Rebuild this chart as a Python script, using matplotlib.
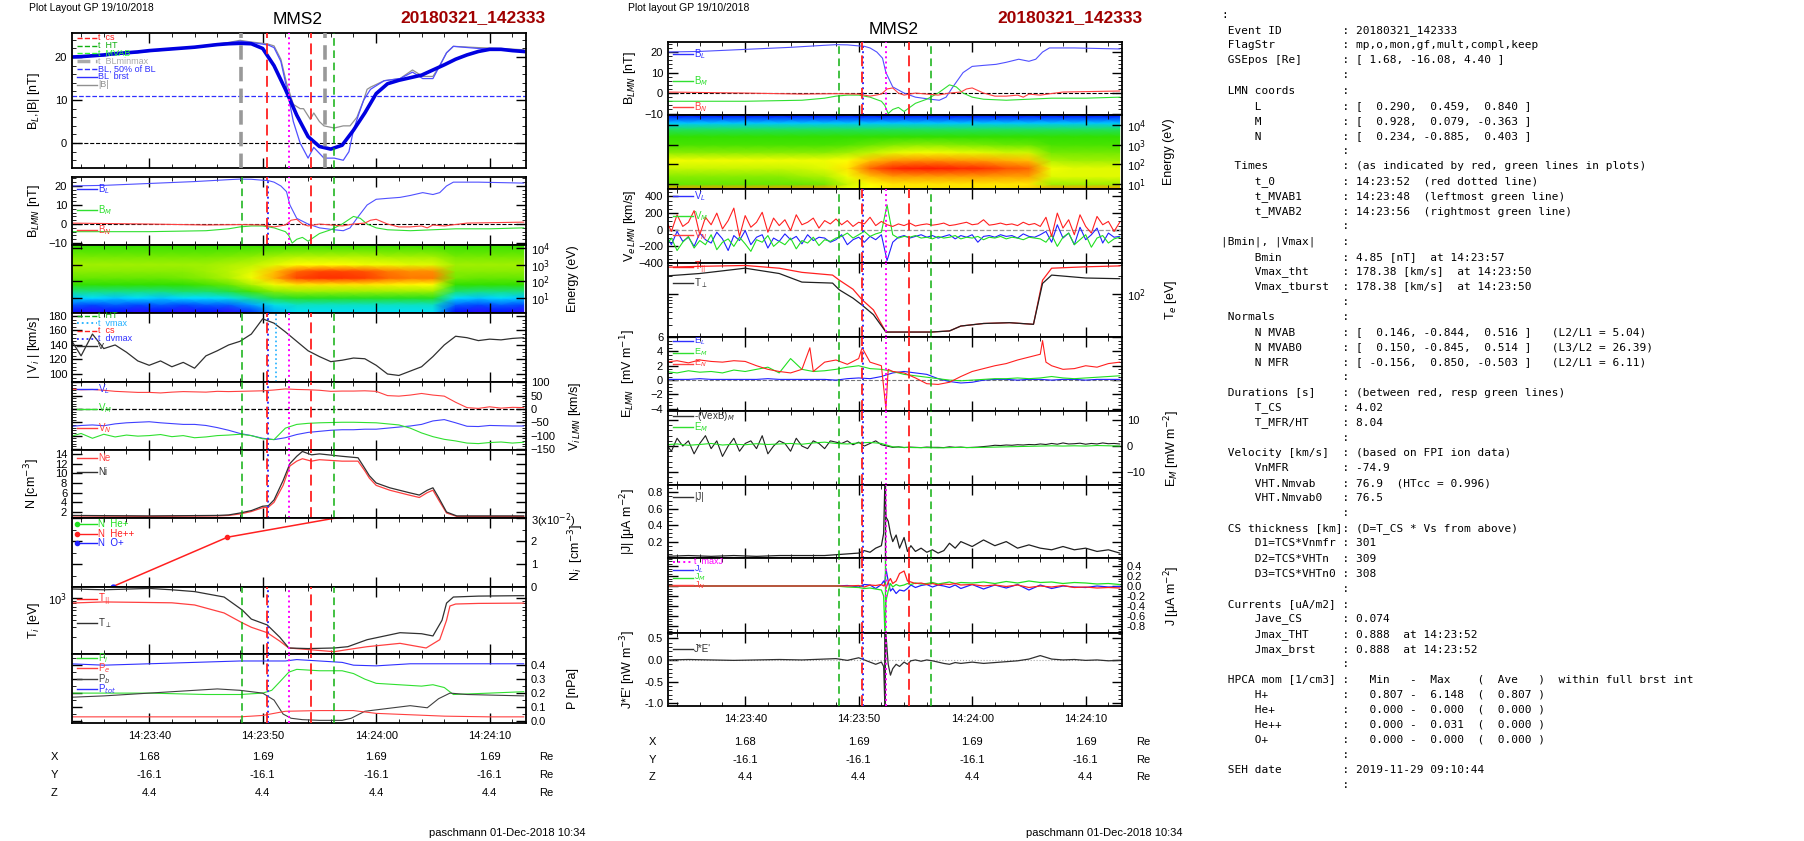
import matplotlib
matplotlib.use("Agg")
import matplotlib.pyplot as plt
from matplotlib.colors import LinearSegmentedColormap
from matplotlib.ticker import FixedLocator, NullFormatter, MultipleLocator
import matplotlib.transforms as mtrans

plt.rcParams['font.family'] = ['Liberation Sans', 'DejaVu Sans']
plt.rcParams['mathtext.fontset'] = 'dejavusans'

W, H = 1804, 841
T0, T1 = 33.2, 73.2   # seconds after 14:23:00

# ---------------- data ----------------
t1s = list(range(33, 74))

# Left panel 1
bl_fit = [20, 20.1, 20.3, 20.5, 20.8, 21, 21.2, 21.5, 21.7, 21.9, 22.1, 22.3, 22.6, 22.9, 23.1, 23.2, 23.1, 22, 18,
          12.5, 6.5, 1.5, -0.8, -1.4, -0.5, 3, 7, 11.5, 13.8, 14.6, 15.2, 15.8, 17, 18.2, 19.5, 20.5, 21.3, 21.8, 21.8,
          21.5, 21.3]
t_blb = [33, 36, 40, 44, 47, 48, 49, 50, 50.5, 51, 51.6, 52.1, 52.7, 53.3, 54, 54.5, 55.4, 56.3, 57.1, 57.6, 58, 58.5,
         58.9, 59.5, 60.7, 62.1, 63.2, 64.1, 65, 65.6, 66.2, 66.8, 69, 71, 73]
bl_brst = [20, 20.3, 21.3, 22.3, 23.3, 23.7, 23.4, 23, 22.8, 22.2, 19, 13, 5, 0, -3.5, -1, -3.5, -3.5, -4, -2, 3, 7, 10,
           12.5, 14.5, 15, 16.5, 15, 15, 18, 21, 22.5, 22, 21.8, 21.5]
t_bmag = [33, 36, 40, 44, 47, 48, 49, 50, 50.5, 51, 51.6, 52.1, 52.7, 53.3, 53.6, 54.2, 54.5, 55, 55.4, 56.3, 57.1, 57.7,
          58.3, 58.9, 59.2, 59.5, 60.7, 62.1, 63.2, 64.1, 65, 65.6, 66.2, 66.8, 69, 71, 73]
bmag = [20, 20.4, 21.4, 22.4, 23.4, 23.9, 23.5, 23.2, 23, 22.6, 19.5, 14, 9, 8, 8, 5.5, 7, 5, 4, 3.5, 4, 4, 6, 10, 12.5,
        13, 14.5, 15, 17, 15.5, 15.5, 18, 21, 22.5, 22.2, 22, 21.7]
bl_half = 11.0

# B LMN
t_bL = [33, 36, 40, 44, 47, 48, 49, 50, 50.5, 51, 51.6, 52.1, 52.4, 53, 54, 55, 56.3, 57.1, 57.7, 58.3, 59.2, 60, 61,
        62.1, 63, 64.1, 65, 65.6, 66.2, 66.8, 69, 73]
bL = [20, 20.3, 21.3, 22.3, 23.3, 23.6, 23.5, 23, 22.8, 22, 20, 17, 10, 3, 0, -2, -3, -3.5, -2, 3, 10, 13, 13.5, 14, 15,
      16.5, 15.5, 16.5, 20, 22, 22, 21.5]
t_bM = [33, 40, 45, 47, 48, 49, 50, 51, 52, 52.3, 52.6, 53, 53.5, 54, 54.5, 55, 56, 57, 57.5, 58, 58.6, 59.2, 60, 61, 63,
        65, 67, 70, 73]
bM = [-4, -4, -3.5, -2.5, -1.5, -1, -1, -2, -4, -6, -10, -8, -7, -9, -7, -5, -3, 0, 2, 4, 3, 0, -2, -3, -3.5, -3, -2.5,
      -2.5, -2]
t_bN = [33, 40, 45, 48, 50, 51, 52, 52.5, 53, 53.5, 54, 55, 56, 57, 58, 59, 59.5, 60, 61, 62, 63, 64, 64.5, 65, 66, 68, 73]
bN = [0.5, 0, -0.5, -0.3, -0.5, -1.5, -0.5, 2, 2.5, 0, -1, 0, -0.5, -1, 0, 0.5, 2, 2.5, 0, -1.5, -1.5, -1, -2, -0.5, -1,
      0.5, 1]

# Spectrograms (value 0..1 on colour scale)
spec_t = [33, 35, 37, 39, 41, 43, 45, 47, 49, 51, 53, 55, 57, 59, 61, 63, 65, 67, 69, 71, 73]
ion_logE = [0.1, 0.6, 1.0, 1.4, 1.8, 2.2, 2.6, 3.0, 3.5, 4.2]
ion_spec = [
    [.12, .1, .12, .1, .12, .1, .12, .1, .15, .25, .3, .3, .3, .3, .3, .3, .3, .12, .1, .12, .1],
    [.2, .18, .2, .18, .2, .18, .2, .2, .25, .32, .35, .35, .35, .35, .35, .35, .35, .2, .18, .2, .18],
    [.28, .3, .28, .3, .28, .3, .3, .32, .38, .45, .48, .48, .48, .48, .48, .48, .48, .3, .28, .3, .28],
    [.4, .4, .4, .4, .4, .42, .42, .45, .52, .58, .6, .6, .6, .6, .6, .6, .6, .42, .4, .4, .4],
    [.5, .5, .5, .5, .5, .5, .52, .55, .62, .7, .75, .75, .75, .75, .74, .73, .72, .5, .5, .5, .5],
    [.55, .55, .55, .55, .55, .56, .58, .62, .7, .82, .93, .95, .95, .94, .9, .88, .88, .56, .55, .55, .55],
    [.58, .58, .58, .58, .58, .58, .6, .63, .68, .8, .9, .93, .93, .92, .88, .86, .86, .58, .58, .58, .58],
    [.6, .6, .6, .6, .6, .6, .6, .62, .64, .68, .72, .72, .72, .7, .7, .68, .68, .6, .6, .6, .6],
    [.56, .56, .56, .56, .56, .56, .56, .57, .58, .6, .62, .62, .62, .62, .6, .6, .6, .56, .56, .56, .56],
    [.5, .5, .5, .5, .5, .5, .5, .5, .5, .5, .5, .5, .5, .5, .5, .5, .5, .5, .5, .5, .5],
]
ele_logE = [0.75, 1.0, 1.4, 1.8, 2.2, 2.6, 3.0, 3.4, 3.8, 4.1, 4.5]
ele_spec = [
    [.85, .85, .85, .85, .85, .85, .85, .85, .7, .72, .75, .75, .75, .75, .75, .75, .78, .85, .85, .85, .85],
    [.55, .55, .55, .55, .55, .55, .55, .56, .65, .72, .75, .75, .75, .75, .75, .75, .75, .6, .6, .6, .6],
    [.58, .58, .58, .58, .58, .58, .6, .62, .7, .8, .85, .85, .85, .85, .85, .84, .84, .68, .68, .68, .68],
    [.65, .65, .65, .65, .65, .65, .66, .68, .75, .9, .96, .97, .97, .96, .95, .92, .9, .7, .68, .68, .68],
    [.7, .7, .7, .7, .7, .7, .7, .7, .72, .8, .85, .86, .86, .85, .84, .82, .8, .62, .6, .6, .6],
    [.58, .58, .58, .58, .58, .58, .58, .58, .6, .64, .68, .7, .7, .69, .68, .66, .66, .56, .56, .56, .56],
    [.52, .52, .52, .52, .52, .52, .52, .52, .53, .55, .57, .58, .58, .57, .56, .55, .55, .52, .52, .52, .52],
    [.5, .5, .5, .5, .5, .5, .5, .5, .5, .5, .5, .5, .5, .5, .5, .5, .5, .5, .5, .5, .5],
    [.42, .42, .42, .42, .42, .42, .42, .42, .42, .42, .42, .42, .42, .42, .42, .42, .42, .42, .42, .42, .42],
    [.28, .28, .28, .28, .28, .28, .28, .28, .28, .28, .28, .28, .28, .28, .28, .28, .28, .28, .28, .28, .28],
    [.12, .12, .12, .12, .12, .12, .12, .12, .12, .12, .12, .12, .12, .12, .12, .12, .12, .12, .12, .12, .12],
]

# |Vi|
vi_mag = [150, 125, 155, 135, 140, 130, 118, 112, 118, 110, 116, 108, 125, 132, 140, 145, 155, 176, 170, 158, 145, 132,
          124, 117, 119, 122, 121, 112, 100, 98, 104, 110, 124, 140, 152, 150, 146, 148, 147, 149, 150]
# Vi LMN
vi_red = [75, 72, 73, 70, 66, 64, 62, 62, 60, 63, 65, 64, 63, 66, 65, 66, 67, 68, 71, 75, 73, 72, 70, 66, 67, 67, 68, 66,
          50, 48, 52, 58, 52, 48, 25, 5, 2, 8, 3, 6, 5]
vi_blue = [-66, -62, -60, -63, -56, -52, -50, -48, -52, -55, -58, -58, -62, -70, -80, -92, -100, -110, -115, -108, -96,
           -88, -84, -80, -78, -78, -76, -76, -72, -68, -64, -58, -45, -40, -52, -65, -66, -62, -63, -64, -64]
vi_green = [-104, -92, -110, -95, -105, -98, -102, -100, -96, -104, -100, -108, -105, -100, -98, -95, -100, -112, -115,
            -72, -58, -54, -52, -51, -50, -50, -51, -52, -56, -60, -72, -90, -104, -114, -120, -128, -130, -126, -124,
            -128, -125]

# Densities
t_n = [33, 40, 46, 47, 48, 49, 50, 50.5, 51, 51.8, 52.4, 53, 53.5, 54.3, 55, 57, 58.4, 59, 59.4, 60, 61.2, 62.9, 63.8,
       64.5, 65, 65.5, 66.2, 67.1, 73]
n_i = [1.3, 1.2, 1.3, 1.4, 1.8, 2.3, 3.2, 3.3, 4.5, 8.5, 12, 13.5, 14.5, 13.8, 14, 13.5, 13.2, 11, 9.5, 8, 7, 6, 5.5,
       6.5, 7, 5, 2, 1.2, 1.2]
n_e = [1.2, 1.1, 1.2, 1.3, 1.6, 2.1, 2.9, 3.0, 4.0, 7.5, 11.5, 12.5, 13, 12.5, 12.8, 12.5, 12.5, 10.5, 9, 7.5, 6.5, 5.5,
       5, 6, 6.5, 4.5, 1.8, 1.1, 1.1]
t_hepp = [36.8, 46.9, 56.2, 58.5]
n_hepp = [0.02, 2.18, 3.0, 3.1]

# Ion temperatures
t_tip = [33, 36, 40, 42, 44, 46.6, 48.2, 49, 50.4, 51.5, 52.3, 54, 56.3, 57.5, 59.2, 62.1, 64, 65, 65.8, 66.2, 66.8, 69, 73]
ti_perp = [1450, 1400, 1480, 1400, 1300, 1040, 610, 420, 330, 200, 128, 125, 128, 135, 180, 240, 230, 210, 400, 810, 1040,
           1080, 1100]
t_tipar = [33, 36, 40, 42, 44, 46.6, 48.2, 49, 50.4, 51.5, 52.3, 54, 56.3, 57.5, 59.2, 62.1, 64.4, 65.6, 66.2, 66.5, 67,
           69, 73]
ti_par = [810, 850, 830, 820, 750, 540, 360, 300, 240, 170, 128, 120, 110, 120, 135, 155, 128, 180, 400, 720, 780, 800, 810]

# Pressures
t_ptot = [33, 36, 40, 44, 48, 50, 52, 53, 55, 57, 58, 60, 63, 66, 70, 73]
p_tot = [0.41, 0.40, 0.41, 0.42, 0.43, 0.43, 0.43, 0.44, 0.43, 0.42, 0.40, 0.395, 0.41, 0.41, 0.41, 0.41]
t_pi = [33, 40, 45, 48, 50, 50.8, 51.5, 52.3, 53, 55, 57, 58, 59, 60, 62, 64, 65, 66, 66.8, 70, 73]
p_i = [0.2, 0.2, 0.19, 0.19, 0.2, 0.22, 0.28, 0.35, 0.37, 0.36, 0.36, 0.34, 0.30, 0.27, 0.26, 0.25, 0.26, 0.24, 0.19,
       0.2, 0.21]
t_pb = [33, 36, 40, 44, 46, 48, 50, 51, 51.8, 52.5, 53.5, 55, 57, 57.8, 59, 61, 63, 64.5, 65.5, 66.5, 68, 73]
p_b = [0.17, 0.18, 0.2, 0.22, 0.23, 0.22, 0.2, 0.15, 0.05, 0.02, 0.01, 0.005, 0.005, 0.02, 0.07, 0.09, 0.11, 0.095,
       0.16, 0.2, 0.19, 0.18]
t_pe = [33, 48, 50, 52, 55, 58, 60, 63, 66, 70, 73]
p_e = [0.03, 0.03, 0.04, 0.07, 0.075, 0.075, 0.055, 0.045, 0.035, 0.03, 0.03]

# Electron velocity (0.5 s grid)
t_half = [33 + 0.5 * i for i in range(81)]
ve_red = [120, -20, 180, 40, 90, 230, -60, 150, 60, 200, 10, 110, 260, -80, 170, 30, 90, 210, -30, 140, 50, 120, -10, 180,
          60, 90, 140, 20, 110, 70, 130,
          60, 110, 40, 90, 70, 150, 50, 100,
          60, 40, 70, 50, 80, 45, 60, 70, 55, 65, 80, 50, 60, 75, 90, 60, 70, 120, 55, 65, 80, 60, 70, 50, 90, 60, 75, 40,
          150, -80, 200, 20, 120, -60, 180, 40, -40, 160, 60, 100, -20, 90]
ve_blue = [-60, -180, -20, -140, -90, -200, -40, -120, -160, -30, -110, -250, -70, -130, -10, -180, -90, -60, -220, -100,
           -140, -50, -120, -80, -170, -60, -130, -90, -100, -150, -120,
           -60, -180, -120, -90, -150, -80, -120, -60,
           -370, -150, -90, -70, -100, -80, -60, -90, -70, -100, -80, -60, -110, -70, -90, -60, -150, -80, -70, -90, -60,
           -80, -70, -100, -50, -80, -90, -60,
           -20, -150, 60, -100, -40, -180, 30, -120, -60, 20, -160, -40, -90, -80]
ve_green = [-200, -100, -250, -150, -80, -220, -130, -180, -60, -240, -150, -110, -200, -90, -170, -260, -120, -150, -70,
            -200, -140, -180, -100, -230, -130, -160, -90, -190, -120, -140, -100,
            -80, -40, -100, -60, -20, -80, -50, -30,
            300, -60, -100, -80, -90, -70, -100, -90, -110, -80, -100, -90, -70, -110, -90, -100, -80, -120, -90, -100,
            -80, -110, -90, -100, -120, -90, -100, -110,
            -150, -60, -200, -90, -40, -180, -120, -60, -210, -100, -70, -160, -110, -90]

# Electron temperatures
t_te = [33, 36, 40, 43, 45, 47.7, 48.3, 49.5, 50.3, 51.3, 52.4, 54, 56.4, 58, 59, 61, 63.3, 65.4, 66.2, 67, 70, 73]
te_perp = [200, 220, 270, 220, 158, 152, 117, 85, 65, 45, 23, 23, 23, 24, 29, 32, 33, 31, 150, 207, 185, 180]
te_par = [280, 290, 300, 270, 230, 207, 170, 120, 80, 54, 23, 23, 23, 24, 29, 32, 33, 31, 170, 270, 285, 295]

# Electric field
t_en = [33, 34, 35, 36, 37, 38, 39, 40, 41, 42, 43, 44, 45, 45.7, 46, 47, 48, 49, 50, 50.3, 51, 52, 52.4, 52.6, 53, 54,
        55, 56, 57, 58, 59, 60, 61, 62, 63, 64, 65, 66, 66.2, 66.5, 67, 68, 69, 70, 71, 72, 73]
e_red = [2.5, 2.7, 2.4, 2.8, 2.6, 2.5, 2.7, 2.6, 2.0, 1.5, 1.2, 1.0, 1.5, 4.5, 1.2, 2.5, 2.8, 2.2, 3.0, 4.5, 2.5, 2.0, -4,
         1.5, 1.2, 1.0, 0.3, -0.5, -0.6, -0.3, 0.5, 1.2, 1.6, 2.0, 2.3, 2.8, 3.2, 3.6, 5.5, 2.5, 2.0, 1.5, 1.6, 2.0, 1.8,
         2.3, 2.5]
e_green = [1.2, 1.0, 1.3, 1.1, 1.2, 1.0, 1.4, 1.2, 1.5, 1.8, 1.0, 3.0, 1.5, 1.2, 1.3, 1.5, 1.8, 2.0, 1.6, 1.5, 1.2, 0.8,
           0.6, 0.4, 0.2, 0, -0.1, 0, 0.1, 0.2, 0.2, 0.3, 0.2, 0.3, 0.5, 0.3, 0.2, 0.3, 0.4, 0.5, 0.6]
e_blue = [0.1, 0.1, 0.1, 0.2, 0.1, 0.1, 0.1, 0.1, 0.1, 0.2, 0.1, 0.1, 0.1, 0.1, 0.1, 0.0, 0.2, 0.3, 0.2, 0.5, 1.0, 1.2,
          1.0, 0.8, 0.2, -0.2, -0.4, -0.3, 0.0, 0.1, 0.1, 0.0, 0.1, 0.1, 0.0, 0.1, 0.1, 0.0, 0.1, 0.1, 0.1]
vexb_m = [1, -2, 3, 0, 2, -3, 1, 4, -1, 2, -4, 0, 3, -2, 1, 2, -1, 4, -3, 0, 2, 1, -2, 3, 0, -1, 2, 1, -1, 2, 1.5,
          1, 2, 0.5, 1.5, 0, 1, 2, 0.5,
          0, -0.5, -0.3, -0.6, -0.4, -0.5, -0.6, -0.4, -0.5, -0.5, -0.6, -0.3, -0.5, -0.4, -0.6, -0.5, -0.4, -0.2, 0, 0.3,
          0.2, 0.4, 0.3, 0.5, 0.4, 0.6, 0.5, 0.8,
          0.6, 1, 0.7, 1.2, 0.8, 0.9, 1.1, 0.7, 1, 0.8, 1.2, 0.9, 1, 0.8]
e_m = [0.5, 0.8, 0.3, 0.6, 1, 0.4, 0.7, 0.5, 0.9, 0.6, 0.8, 1, 0.7, 1.2, 1.5, 1, 0.8, 1.2, 1.4, 1, -0.3, -0.5, -0.6,
       -0.6, -0.7, -0.6, -0.5, -0.6, -0.5, -0.4, -0.3, -0.2, -0.1, 0, 0.1, 0, 0.1, 0, 0.2, 0.1, 0]

# Currents
t_j = [33, 35, 37, 39, 41, 43, 45, 47, 48, 49, 50, 50.5, 51, 51.5, 52, 52.2, 52.3, 52.4, 52.6, 52.8, 53, 53.3, 53.6, 54,
       54.3, 54.6, 55, 55.5, 56, 56.5, 57, 57.5, 58, 58.5, 59, 60, 61, 62, 63, 64, 65, 66, 67, 68, 69, 70, 71, 72, 73]
j_mag = [0.02, 0.03, 0.02, 0.03, 0.02, 0.03, 0.03, 0.03, 0.04, 0.05, 0.06, 0.09, 0.07, 0.12, 0.15, 0.3, 0.89, 0.5, 0.45,
         0.3, 0.2, 0.28, 0.12, 0.25, 0.08, 0.15, 0.08, 0.12, 0.07, 0.1, 0.06, 0.09, 0.18, 0.12, 0.2, 0.14, 0.22, 0.15,
         0.2, 0.12, 0.16, 0.12, 0.1, 0.14, 0.1, 0.12, 0.08, 0.1, 0.06]
j_L = [0, 0, 0, 0, 0, 0, 0, 0, 0, 0.01, -0.02, 0.03, 0.02, -0.05, 0.03, 0.1, 0.05, 0.35, 0.1, -0.1, -0.05, -0.15, -0.08,
       -0.1, -0.05, 0.02, -0.03, 0.01, 0.03, -0.02, 0.02, 0.0, -0.03, 0.02, -0.05, 0.03, -0.06, 0.02, -0.04, 0.03, -0.08,
       0.02, -0.05, 0.0, -0.02, -0.03, 0.0, -0.02, -0.01]
j_M = [0, 0, 0, 0, 0, 0, 0, 0, 0, -0.02, -0.03, -0.05, -0.04, -0.06, -0.08, -0.2, -0.9, -0.3, -0.1, 0.05, -0.02, 0.03,
       0.0, 0.02, 0.05, 0.03, 0.06, 0.04, 0.05, 0.07, 0.04, 0.06, 0.08, 0.05, 0.07, 0.06, 0.08, 0.05, 0.09, 0.06, 0.1,
       0.07, 0.08, 0.05, 0.07, 0.06, 0.04, 0.05, 0.03]
j_N = [0, 0, 0, 0, 0, 0, 0, 0, 0, 0.0, 0.01, -0.02, 0.02, 0.01, 0.03, 0.0, 0.05, -0.05, 0.08, 0.15, 0.05, 0.1, 0.25, 0.3,
       0.1, 0.08, 0.05, 0.06, 0.03, 0.05, 0.02, 0.04, 0.03, 0.05, 0.02, 0.03, 0.0, 0.02, -0.01, 0.02, -0.03, 0.0, -0.02,
       0.01, -0.03, -0.02, -0.04, -0.03, -0.04]
jdote = [0, 0.01, 0, -0.01, 0, 0.01, 0, 0.02, 0.03, -0.01, 0.05, 0.0, -0.05, -0.1, -0.05, -0.15, -1.0, 0.6, -0.1, -0.35,
         -0.2, -0.1, -0.15, -0.05, -0.1, -0.02, 0.0, -0.03, 0.0, -0.02, -0.05, -0.08, -0.1, -0.06, -0.08, -0.05, -0.08,
         -0.06, -0.04, -0.02, 0.02, 0.1, 0.02, 0.0, 0.01, -0.01, 0.0, -0.02, -0.01]

tick_secs = [40, 50, 60, 70]
tick_labels = ["14:23:40", "14:23:50", "14:24:00", "14:24:10"]
pos_X = ["1.68", "1.69", "1.69", "1.69"]
pos_Y = ["-16.1", "-16.1", "-16.1", "-16.1"]
pos_Z = ["4.4", "4.4", "4.4", "4.4"]

info = [
    (":", None),
    (" Event ID", "20180321_142333"), (" FlagStr", "mp,o,mon,gf,mult,compl,keep"),
    (" GSEpos [Re]", "[ 1.68, -16.08, 4.40 ]"), ("", ""),
    (" LMN coords", ""), ("     L", "[  0.290,  0.459,  0.840 ]"),
    ("     M", "[  0.928,  0.079, -0.363 ]"), ("     N", "[  0.234, -0.885,  0.403 ]"), ("", ""),
    ("  Times", "(as indicated by red, green lines in plots)"), ("     t_0", "14:23:52  (red dotted line)"),
    ("     t_MVAB1", "14:23:48  (leftmost green line)"), ("     t_MVAB2", "14:23:56  (rightmost green line)"),
    ("", ""),
    ("|Bmin|, |Vmax|", ""), ("     Bmin", "4.85 [nT]  at 14:23:57"),
    ("     Vmax_tht", "178.38 [km/s]  at 14:23:50"), ("     Vmax_tburst", "178.38 [km/s]  at 14:23:50"),
    ("", ""),
    (" Normals", ""), ("     N MVAB", "[  0.146, -0.844,  0.516 ]   (L2/L1 = 5.04)"),
    ("     N MVAB0", "[  0.150, -0.845,  0.514 ]   (L3/L2 = 26.39)"),
    ("     N MFR", "[ -0.156,  0.850, -0.503 ]   (L2/L1 = 6.11)"), ("", ""),
    (" Durations [s]", "(between red, resp green lines)"), ("     T_CS", "4.02"), ("     T_MFR/HT", "8.04"),
    ("", ""),
    (" Velocity [km/s]", "(based on FPI ion data)"), ("     VnMFR", "-74.9"),
    ("     VHT.Nmvab", "76.9  (HTcc = 0.996)"), ("     VHT.Nmvab0", "76.5"), ("", ""),
    (" CS thickness [km]", "(D=T_CS * Vs from above)"), ("     D1=TCS*Vnmfr", "301"),
    ("     D2=TCS*VHTn", "309"), ("     D3=TCS*VHTn0", "308"), ("", ""),
    (" Currents [uA/m2]", ""), ("     Jave_CS", "0.074"), ("     Jmax_THT", "0.888  at 14:23:52"),
    ("     Jmax_brst", "0.888  at 14:23:52"), ("", ""),
    (" HPCA mom [1/cm3]", "  Min   -  Max    (  Ave   )  within full brst int"),
    ("     H+", "  0.807 -  6.148  (  0.807 )"), ("     He+", "  0.000 -  0.000  (  0.000 )"),
    ("     He++", "  0.000 -  0.031  (  0.000 )"), ("     O+", "  0.000 -  0.000  (  0.000 )"),
    ("", ""), (" SEH date", "2019-11-29 09:10:44"), ("", ""),
]

# ---------------- drawing ----------------
fig = plt.figure(figsize=(W / 100, H / 100), dpi=100)
cmap = LinearSegmentedColormap.from_list("sp", [(0, '#ff00ff'), (0.12, '#0000ff'), (0.3, '#00e0ff'), (0.5, '#30e000'),
                                                (0.6, '#a0f000'), (0.72, '#ffff00'), (0.86, '#ff9000'),
                                                (1.0, '#ff0000')])
FS = 8


def mkax(x0, x1, y0, y1):
    ax = fig.add_axes([x0 / W, 1 - y1 / H, (x1 - x0) / W, (y1 - y0) / H])
    ax.set_xlim(T0, T1)
    ax.xaxis.set_major_locator(FixedLocator(tick_secs))
    ax.xaxis.set_minor_locator(MultipleLocator(2))
    ax.tick_params(which='both', direction='in', top=True, right=True, labelsize=FS)
    ax.tick_params(which='major', length=7, width=1)
    ax.tick_params(which='minor', length=3)
    ax.set_xticklabels([])
    for s in ax.spines.values():
        s.set_linewidth(1.3)
    return ax


def vl(ax, col, panel1=False, cyan=False):
    if col == 0:
        g, r, b, m = (48.2, 56.3), (50.4, 54.3), 50.5, 52.3
    else:
        g, r, b, m = (48.3, 56.4), (50.3, 54.4), 50.4, 52.4
    if panel1:
        for x in (48.1, 55.5):
            ax.axvline(x, color='#999999', ls=(0, (4, 2)), lw=2.6, zorder=4)
        ax.axvline(g[1], color='#10b010', ls=(0, (5, 3)), lw=1.1, zorder=4)
    else:
        for x in g:
            ax.axvline(x, color='#10b010', ls=(0, (5, 3)), lw=1.1, zorder=4)
        ax.axvline(b, color='#3030ff', ls=':', lw=1.4, zorder=4)
    for x in r:
        ax.axvline(x, color='#ff2020', ls=(0, (6, 3)), lw=1.3, zorder=4)
    ax.axvline(m, color='#ff00ff', ls=':', lw=1.4, zorder=4)
    if cyan:
        ax.axvline(51.2, color='#20b0ff', ls=':', lw=1.2, zorder=4)


def legend(ax, entries, y0=0.93, dy=None, fs=7):
    h = ax.get_position().height * H
    if dy is None:
        dy = 7.7 / h
    trans = ax.transAxes
    for i, (lab, col, ls, lwid, mk) in enumerate(entries):
        y = y0 - i * dy
        ax.plot([0.012, 0.055], [y, y], color=col, ls=ls, lw=lwid, transform=trans, marker=mk, ms=3,
                markevery=[0], clip_on=False, zorder=6)
        ax.text(0.057, y, lab, color=col, fontsize=fs, va='center', transform=trans, zorder=6)


def right(ax, label):
    ax.yaxis.tick_right()
    ax.tick_params(which='both', left=True, right=True, labelleft=False, labelright=True)
    ax.yaxis.set_label_position('right')
    ax.set_ylabel(label, fontsize=FS + 1)
    ax.yaxis.set_label_coords(1.09, 0.5)


def left(ax, label):
    ax.set_ylabel(label, fontsize=FS + 1)
    ax.yaxis.set_label_coords(-0.065, 0.5)


def spec(ax, logE, S, lo, hi):
    ax.pcolormesh(spec_t, logE, S, cmap=cmap, vmin=0, vmax=1, shading='gouraud')
    ax.set_ylim(lo, hi)
    ax.yaxis.set_major_locator(FixedLocator([1, 2, 3, 4]))
    ax.yaxis.set_minor_locator(FixedLocator([]))
    ax.set_yticklabels(["10$^1$", "10$^2$", "10$^3$", "10$^4$"])
    right(ax, "Energy (eV)")


LX0, LX1, MX0, MX1 = 72, 526, 668, 1122

# ---- Left column ----
a = mkax(LX0, LX1, 33, 168)
a.set_ylim(-5.8, 25.6)
a.yaxis.set_major_locator(FixedLocator([0, 10, 20]))
a.yaxis.set_minor_locator(MultipleLocator(2))
a.axhline(0, color='k', ls='--', lw=0.8)
a.axhline(bl_half, color='#3030ff', ls='--', lw=0.9)
a.plot(t_bmag, bmag, color='#909090', lw=0.9)
a.plot(t_blb, bl_brst, color='#5050ff', lw=0.9)
a.plot(t1s, bl_fit, color='#0000e0', lw=2.6)
vl(a, 0, panel1=True)
legend(a, [("t  cs", '#ff2020', '--', 1, None), ("t  HT", '#10b010', '--', 1, None),
           ("t  MVAB", '#30ff30', '--', 1, None), ("t  BLminmax", '#aaaaaa', '--', 2.5, None),
           ("BL, 50% of BL", '#3030ff', '--', 1, None), ("BL  brst", '#3030ff', '-', 1, None),
           ("|B|", '#909090', '-', 1, None)], y0=0.965, dy=7.8 / 135, fs=6.5)
left(a, "B$_L$,|B| [nT]")

a = mkax(LX0, LX1, 177, 245)
a.set_ylim(-11, 24.7)
a.yaxis.set_major_locator(FixedLocator([-10, 0, 10, 20]))
a.yaxis.set_minor_locator(MultipleLocator(2))
a.axhline(0, color='k', ls='--', lw=0.8)
a.plot(t_bL, bL, color='#5050ff', lw=0.8)
a.plot(t_bM, bM, color='#30e030', lw=0.8)
a.plot(t_bN, bN, color='#ff4040', lw=0.8)
vl(a, 0)
legend(a, [("B$_L$", '#3030ff', '-', 1, None), ("B$_M$", '#30e030', '-', 1, None), ("B$_N$", '#ff4040', '-', 1, None)],
       y0=0.82, dy=0.3)
left(a, "B$_{LMN}$ [nT]")

a = mkax(LX0, LX1, 245, 313)
spec(a, ion_logE, ion_spec, 0.09, 4.18)

a = mkax(LX0, LX1, 313, 382)
a.set_ylim(89, 184)
a.yaxis.set_major_locator(FixedLocator([100, 120, 140, 160, 180]))
a.yaxis.set_minor_locator(MultipleLocator(5))
a.plot(t1s, vi_mag, color='#303030', lw=0.9)
vl(a, 0, cyan=True)
legend(a, [("t  HT", '#10b010', '--', 1, None), ("t  vmax", '#20b0ff', ':', 1.3, None),
           ("t  cs", '#ff2020', '--', 1, None), ("t  dvmax", '#3030ff', ':', 1.3, None),
           ("V", '#303030', '-', 1, None)], y0=0.96, dy=7.6 / 69, fs=6.5)
left(a, "| V$_i$ | [km/s]")

a = mkax(LX0, LX1, 382, 450)
a.set_ylim(-154, 101)
a.yaxis.set_major_locator(FixedLocator([-150, -100, -50, 0, 50, 100]))
a.yaxis.set_minor_locator(MultipleLocator(10))
a.axhline(0, color='k', ls='--', lw=0.9)
a.plot(t1s, vi_red, color='#ff4040', lw=0.8)
a.plot(t1s, vi_blue, color='#4040ff', lw=0.8)
a.plot(t1s, vi_green, color='#30e030', lw=0.8)
vl(a, 0)
legend(a, [("V$_L$", '#3030ff', '-', 1, None), ("V$_M$", '#30e030', '-', 1, None), ("V$_N$", '#ff4040', '-', 1, None)],
       y0=0.9, dy=0.29)
right(a, "V$_{i\\,LMN}$ [km/s]")

a = mkax(LX0, LX1, 450, 518)
a.set_ylim(0.77, 14.8)
a.yaxis.set_major_locator(FixedLocator([2, 4, 6, 8, 10, 12, 14]))
a.plot(t_n, n_e, color='#ff4040', lw=0.9)
a.plot(t_n, n_i, color='#303030', lw=0.9)
vl(a, 0)
legend(a, [("Ne", '#ff4040', '-', 1, None), ("Ni", '#303030', '-', 1, None)], y0=0.88, dy=0.2)
left(a, "N [cm$^{-3}$]")

a = mkax(LX0, LX1, 518, 587)
a.set_ylim(0, 3.02)
a.yaxis.set_major_locator(FixedLocator([0, 1, 2, 3]))
a.yaxis.set_minor_locator(MultipleLocator(0.5))
a.plot(t_hepp, n_hepp, color='#ff2020', lw=1.1)
a.plot(t_hepp[1:2], n_hepp[1:2], 'o', color='#ff2020', ms=3)
a.plot(t_hepp[0:1], n_hepp[0:1], 'o', color='#2020ff', ms=3.5, clip_on=False)
right(a, "N$_i$  [cm$^{-3}$]")
a.set_yticklabels(["0", "1", "2", "3(x10$^{-2}$)"])
legend(a, [("N  He+", '#20e020', '-', 1, 'o'), ("N  He++", '#ff2020', '-', 1, 'o'), ("N  O+", '#2020ff', '-', 1, 'o')],
       y0=0.91, dy=0.135)

a = mkax(LX0, LX1, 587, 654)
a.set_yscale('log')
a.set_ylim(100, 1570)
a.yaxis.set_major_locator(FixedLocator([1000]))
a.yaxis.set_minor_formatter(NullFormatter())
a.set_xlim(T0, T1)
a.set_yticklabels(["10$^3$"])
a.plot(t_tipar, ti_par, color='#ff4040', lw=0.9)
a.plot(t_tip, ti_perp, color='#303030', lw=0.9)
vl(a, 0)
legend(a, [("T$_{||}$", '#ff2020', '-', 1, None), ("T$_{\\perp}$", '#303030', '-', 1, None)], y0=0.82, dy=0.36)
left(a, "T$_i$ [eV]")

a = mkax(LX0, LX1, 654, 723)
a.set_ylim(-0.014, 0.48)
a.yaxis.set_major_locator(FixedLocator([0, 0.1, 0.2, 0.3, 0.4]))
a.yaxis.set_minor_locator(MultipleLocator(0.05))
a.plot(t_ptot, p_tot, color='#3030ff', lw=0.8)
a.plot(t_pi, p_i, color='#30e030', lw=0.8)
a.plot(t_pb, p_b, color='#404040', lw=0.8)
a.plot(t_pe, p_e, color='#ff4040', lw=0.8)
vl(a, 0)
legend(a, [("P$_i$", '#30e030', '-', 1, None), ("P$_e$", '#ff4040', '-', 1, None), ("P$_b$", '#404040', '-', 1, None),
           ("P$_{tot}$", '#3030ff', '-', 1, None)], y0=0.94, dy=0.15)
right(a, "P [nPa]")
a.set_yticklabels(["0.0", "0.1", "0.2", "0.3", "0.4"])
a.set_xticklabels(tick_labels, fontsize=FS)
a.tick_params(axis='x', pad=6)
bl = mtrans.blended_transform_factory(a.transData, fig.transFigure)
for nm, vals, yy in [("X", pos_X, 757), ("Y", pos_Y, 775), ("Z", pos_Z, 793)]:
    fig.text(54 / W, 1 - yy / H, nm, fontsize=FS, va='center', ha='center')
    fig.text(546 / W, 1 - yy / H, "Re", fontsize=FS, va='center', ha='center')
    for tx, v in zip(tick_secs, vals):
        a.text(tx, 1 - yy / H, v, transform=bl, fontsize=FS, ha='center', va='center')

# ---- Middle column ----
a = mkax(MX0, MX1, 42, 115)
a.set_ylim(-10.7, 24.9)
a.yaxis.set_major_locator(FixedLocator([-10, 0, 10, 20]))
a.yaxis.set_minor_locator(MultipleLocator(2))
a.axhline(0, color='k', ls='--', lw=0.8)
a.plot(t_bL, bL, color='#5050ff', lw=0.8)
a.plot(t_bM, bM, color='#30e030', lw=0.8)
a.plot(t_bN, bN, color='#ff4040', lw=0.8)
vl(a, 1)
legend(a, [("B$_L$", '#3030ff', '-', 1, None), ("B$_M$", '#30e030', '-', 1, None), ("B$_N$", '#ff4040', '-', 1, None)],
       y0=0.83, dy=0.36)
left(a, "B$_{LMN}$ [nT]")

a = mkax(MX0, MX1, 115, 189)
spec(a, ele_logE, ele_spec, 0.75, 4.5)

a = mkax(MX0, MX1, 189, 263)
a.set_ylim(-400, 490)
a.yaxis.set_major_locator(FixedLocator([-400, -200, 0, 200, 400]))
a.yaxis.set_minor_locator(MultipleLocator(50))
a.axhline(0, color='#999999', ls='--', lw=0.9)
a.plot(t_half, ve_blue, color='#2020ff', lw=0.8)
a.plot(t_half, ve_green, color='#20e020', lw=0.8)
a.plot(t_half, ve_red, color='#ff2020', lw=0.8)
vl(a, 1)
legend(a, [("V$_L$", '#3030ff', '-', 1, None), ("V$_M$", '#30e030', '-', 1, None), ("V$_N$", '#ff4040', '-', 1, None)],
       y0=0.9, dy=0.26)
left(a, "V$_{e\\,LMN}$ [km/s]")

a = mkax(MX0, MX1, 263, 337)
a.set_yscale('log')
a.set_ylim(19, 330)
a.set_xlim(T0, T1)
a.yaxis.set_major_locator(FixedLocator([100]))
a.yaxis.set_minor_formatter(NullFormatter())
a.plot(t_te, te_par, color='#ff2020', lw=0.9)
a.plot(t_te, te_perp, color='#202020', lw=0.9)
vl(a, 1)
legend(a, [("T$_{||}$", '#ff2020', '-', 1, None), ("T$_{\\perp}$", '#303030', '-', 1, None)], y0=0.95, dy=0.22)
right(a, "T$_e$ [eV]")
a.set_yticklabels(["10$^2$"])

a = mkax(MX0, MX1, 337, 411)
a.set_ylim(-4.3, 6.0)
a.yaxis.set_major_locator(FixedLocator([-4, -2, 0, 2, 4, 6]))
a.yaxis.set_minor_locator(MultipleLocator(0.5))
a.axhline(0, color='#777777', ls='--', lw=0.8)
a.plot(t1s, e_blue, color='#2020ff', lw=0.8)
a.plot(t1s, e_green, color='#20e020', lw=0.8)
a.plot(t_en, e_red, color='#ff2020', lw=0.8)
vl(a, 1)
legend(a, [("E$_L$", '#3030ff', '-', 1, None), ("E$_M$", '#30e030', '-', 1, None), ("E$_N$", '#ff4040', '-', 1, None)],
       y0=0.94, dy=0.15, fs=6.5)
left(a, "E$_{LMN}$  [mV m$^{-1}$]")

a = mkax(MX0, MX1, 411, 485)
a.set_ylim(-15, 13.5)
a.yaxis.set_major_locator(FixedLocator([-10, 0, 10]))
a.yaxis.set_minor_locator(MultipleLocator(2))
a.plot(t_half, vexb_m, color='#202020', lw=0.8)
a.plot(t1s, e_m, color='#20e020', lw=0.8)
vl(a, 1)
legend(a, [("-(VexB)$_M$", '#303030', '-', 1, None), ("E$_M$", '#30e030', '-', 1, None)], y0=0.93, dy=0.15)
right(a, "E$_M$ [mW m$^{-2}$]")

a = mkax(MX0, MX1, 485, 558)
a.set_ylim(0, 0.89)
a.yaxis.set_major_locator(FixedLocator([0.2, 0.4, 0.6, 0.8]))
a.yaxis.set_minor_locator(MultipleLocator(0.05))
a.plot(t_j, j_mag, color='#202020', lw=0.9)
vl(a, 1)
a.axvline(52.3, color='#303030', lw=1.0)
legend(a, [("|J|", '#303030', '-', 1, None)], y0=0.83)
left(a, "|J| [μA m$^{-2}$]")

a = mkax(MX0, MX1, 558, 633)
a.set_ylim(-0.94, 0.56)
a.yaxis.set_major_locator(FixedLocator([-0.8, -0.6, -0.4, -0.2, 0.0, 0.2, 0.4]))
a.yaxis.set_minor_locator(MultipleLocator(0.05))
a.plot(t_j, j_L, color='#2020ff', lw=0.9)
a.plot(t_j, j_M, color='#20e020', lw=0.9)
a.plot(t_j, j_N, color='#ff2020', lw=0.9)
vl(a, 1)
a.axvline(52.35, color='#20e020', lw=1.0)
legend(a, [("t  maxJ", '#ff00ff', ':', 1.4, None), ("J$_L$", '#3030ff', '-', 1, None),
           ("J$_M$", '#30e030', '-', 1, None), ("J$_N$", '#ff4040', '-', 1, None)], y0=0.95, dy=0.105, fs=6.5)
right(a, "J [μA m$^{-2}$]")
a.set_yticklabels(["-0.8", "-0.6", "-0.4", "-0.2", "0.0", "0.2", "0.4"])

a = mkax(MX0, MX1, 633, 706)
a.set_ylim(-1.06, 0.62)
a.yaxis.set_major_locator(FixedLocator([-1.0, -0.5, 0.0, 0.5]))
a.yaxis.set_minor_locator(MultipleLocator(0.1))
a.axhline(0, color='#aaaaaa', ls=':', lw=0.8)
a.plot(t_j, jdote, color='#303030', lw=0.9)
vl(a, 1)
a.axvline(52.3, color='#303030', lw=1.3)
legend(a, [("J*E'", '#303030', '-', 1, None)], y0=0.78)
left(a, "J*E' [nW m$^{-3}$]")
a.set_yticklabels(["-1.0", "-0.5", "0.0", "0.5"])
a.set_xticklabels(tick_labels, fontsize=FS)
a.tick_params(axis='x', pad=6)
bl = mtrans.blended_transform_factory(a.transData, fig.transFigure)
for nm, vals, yy in [("X", pos_X, 742), ("Y", pos_Y, 760), ("Z", pos_Z, 777)]:
    fig.text(652 / W, 1 - yy / H, nm, fontsize=FS, va='center', ha='center')
    fig.text(1143 / W, 1 - yy / H, "Re", fontsize=FS, va='center', ha='center')
    for tx, v in zip(tick_secs, vals):
        a.text(tx, 1 - yy / H, v, transform=bl, fontsize=FS, ha='center', va='center')

# ---- Titles ----
fig.text(29 / W, 1 - 8 / H, "Plot Layout GP 19/10/2018", fontsize=7.5, va='center')
fig.text(298 / W, 1 - 20 / H, "MMS2", fontsize=12.5, va='center', ha='center')
fig.text(400 / W, 1 - 18 / H, "20180321_142333", fontsize=12.5, va='center', color='#a00000', weight='bold')
fig.text(628 / W, 1 - 8 / H, "Plot layout GP 19/10/2018", fontsize=7.5, va='center')
fig.text(894 / W, 1 - 29 / H, "MMS2", fontsize=12.5, va='center', ha='center')
fig.text(997 / W, 1 - 18 / H, "20180321_142333", fontsize=12.5, va='center', color='#a00000', weight='bold')
fig.text(507 / W, 1 - 833 / H, "paschmann 01-Dec-2018 10:34", fontsize=FS, va='center', ha='center')
fig.text(1104 / W, 1 - 833 / H, "paschmann 01-Dec-2018 10:34", fontsize=FS, va='center', ha='center')

# ---- Info text ----
for i, (lab, val) in enumerate(info):
    line = lab if val is None else f"{lab:<18}: {val}"
    fig.text(1221 / W, 1 - (15 + 15.1 * i) / H, line, fontsize=8, family='DejaVu Sans Mono', va='center')

fig.savefig("out.png", dpi=100)
